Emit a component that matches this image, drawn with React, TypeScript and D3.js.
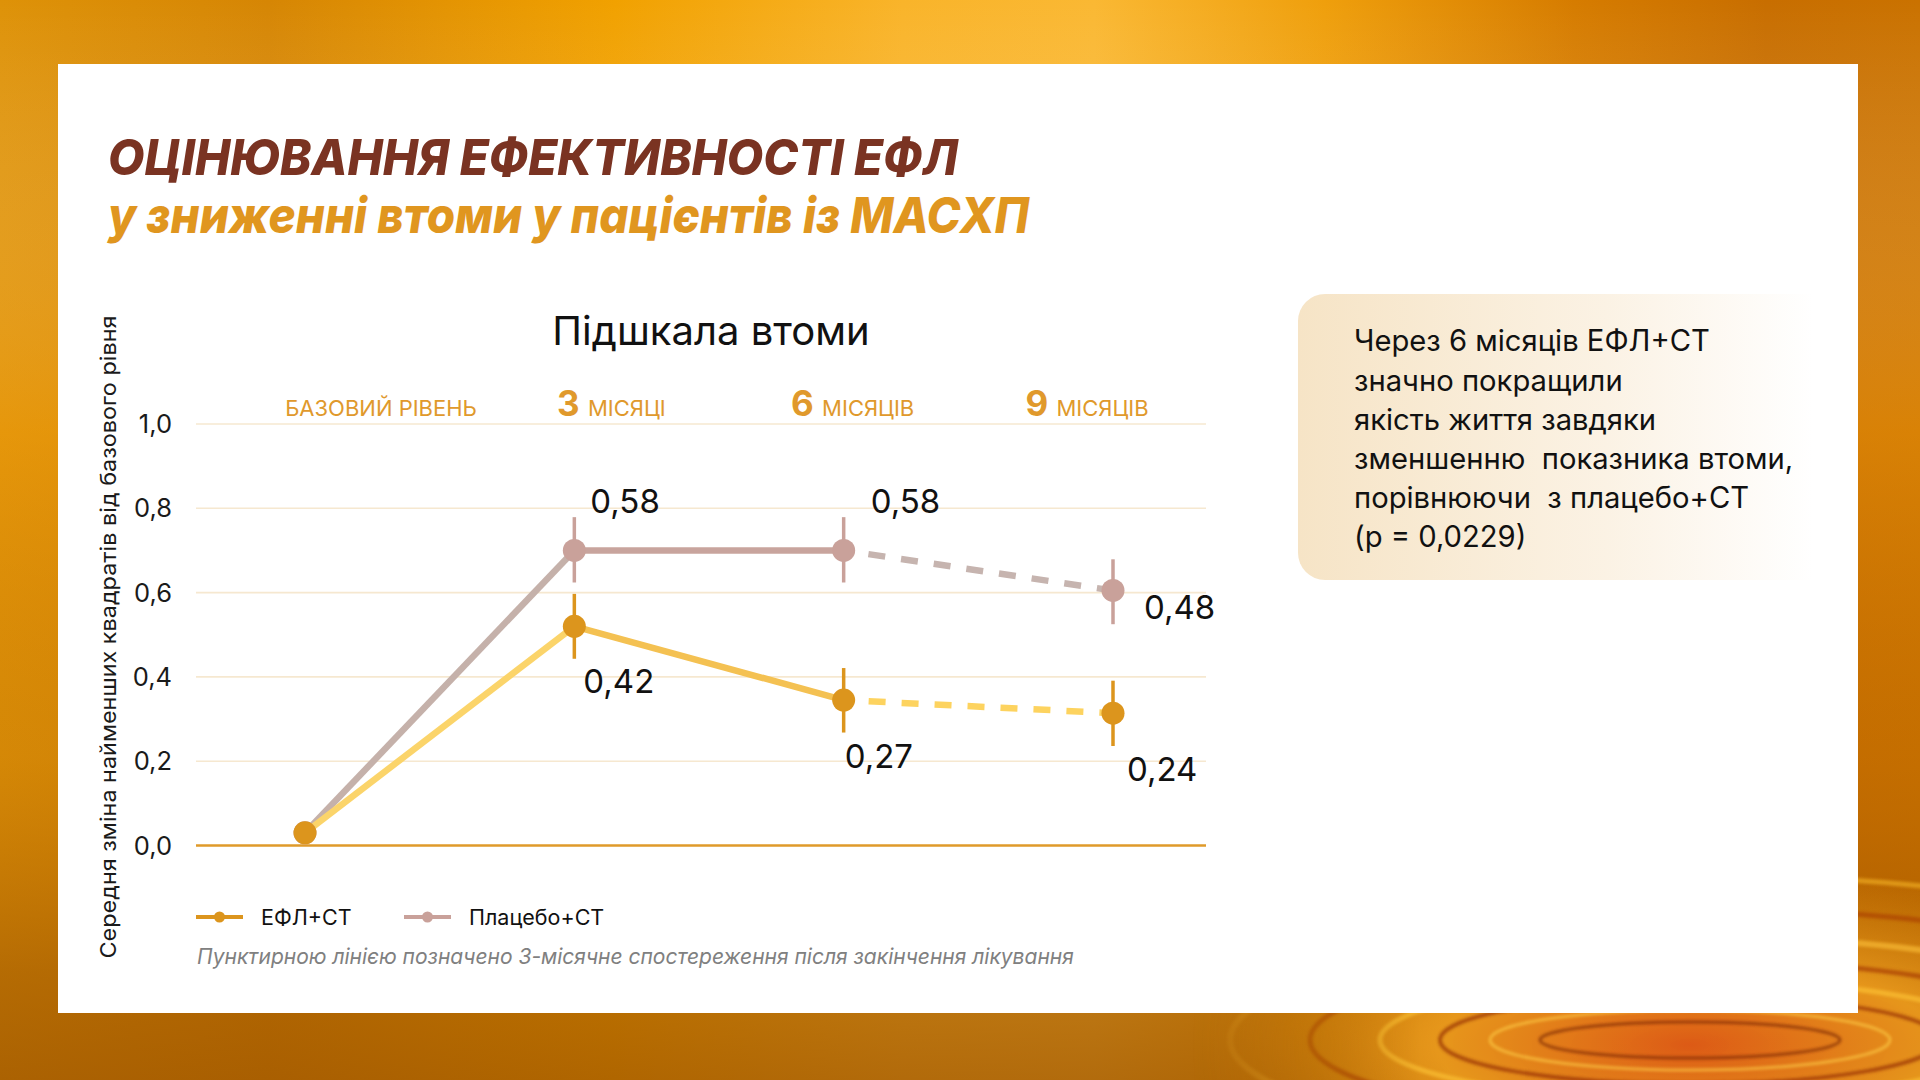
import React from 'react';
import * as d3 from 'd3';

// ---------- data ----------
const timepoints = ['base', 'm3', 'm6', 'm9'];
const headerNumbers = ['', '3', '6', '9'];
const headerWords = ['БАЗОВИЙ РІВЕНЬ', 'МІСЯЦІ', 'МІСЯЦІВ', 'МІСЯЦІВ'];

const eflValues = [0.03, 0.52, 0.345, 0.314];
const eflLow = [NaN, 0.443, 0.268, 0.236];
const eflHigh = [NaN, 0.597, 0.421, 0.391];
const eflLabels = ['', '0,42', '0,27', '0,24'];

const placeboValues = [0.03, 0.70, 0.70, 0.605];
const placeboLow = [NaN, 0.624, 0.624, 0.525];
const placeboHigh = [NaN, 0.779, 0.779, 0.679];
const placeboLabels = ['', '0,58', '0,58', '0,48'];

const yTicks = [0, 0.2, 0.4, 0.6, 0.8, 1.0];
const seriesNames = ['ЕФЛ+СТ', 'Плацебо+СТ'];

const titleLine1 = 'ОЦІНЮВАННЯ ЕФЕКТИВНОСТІ ЕФЛ';
const titleLine2 = 'у зниженні втоми у пацієнтів із МАСХП';
const chartTitle = 'Підшкала втоми';
const yAxisTitle = 'Середня зміна найменших квадратів від базового рівня';
const footnote = 'Пунктирною лінією позначено 3-місячне спостереження після закінчення лікування';
const boxLines = [
  'Через 6 місяців ЕФЛ+СТ',
  'значно покращили',
  'якість життя завдяки',
  'зменшенню  показника втоми,',
  'порівнюючи  з плацебо+СТ',
  '(p = 0,0229)',
];

// ---------- layout (not data) ----------
const FONT = "Inter, 'Noto Sans', sans-serif";
const TITLE_FONT = "Inter, Roboto, sans-serif";
const placeboLabelOffsets = [[0, 0], [16, -37], [27, -37], [31, 29]];
const eflLabelOffsets = [[0, 0], [9, 67], [1, 68], [14, 68]];
const headerNudge = [0, -5, 1, 0];

const C = {
  brown: '#7a3322',
  gold: '#e0961f',
  header: '#e0992c',
  grid: '#f6e8d0',
  zero: '#df9a2a',
  eflMarker: '#dc951d',
  eflSeg: ['#fbd46a', '#f4c152', '#fdd35f'],
  plMarker: '#c9a19a',
  plSeg: ['#c5b1aa', '#c8a49d', '#c6b4af'],
};

const locale = d3.formatLocale({ decimal: ',', thousands: ' ', grouping: [3], currency: ['', ''] });
const fmt = locale.format('.1f');

export default function App() {
  const x = d3.scalePoint<string>().domain(timepoints).range([305, 1113]);
  const hx = d3.scalePoint<string>().domain(timepoints).range([381, 1087]);
  const y = d3.scaleLinear().domain([0, 1]).range([845.5, 424]);
  const line = d3.line<[number, number]>();

  const seg = (vals: number[], i: number) =>
    line([
      [x(timepoints[i])!, y(vals[i])],
      [x(timepoints[i + 1])!, y(vals[i + 1])],
    ]) || '';

  const series = [
    { vals: placeboValues, lo: placeboLow, hi: placeboHigh, labels: placeboLabels, off: placeboLabelOffsets, marker: C.plMarker, segs: C.plSeg },
    { vals: eflValues, lo: eflLow, hi: eflHigh, labels: eflLabels, off: eflLabelOffsets, marker: C.eflMarker, segs: C.eflSeg },
  ];

  const ripples = [
    { rx: 150, ry: 18, c: '#6e1c00', w: 3 },
    { rx: 200, ry: 30, c: '#ffd24a', w: 3 },
    { rx: 250, ry: 44, c: '#8a2400', w: 4 },
    { rx: 310, ry: 60, c: '#ffc838', w: 5 },
    { rx: 380, ry: 80, c: '#a03000', w: 5 },
    { rx: 460, ry: 104, c: '#ffc43a', w: 6 },
    { rx: 550, ry: 132, c: '#a83a00', w: 5 },
    { rx: 650, ry: 165, c: '#f8b828', w: 5 },
  ];

  return (
    <svg width={1920} height={1080} style={{ position: 'absolute', left: 0, top: 0 }} xmlns="http://www.w3.org/2000/svg">
      <defs>
        <linearGradient id="bgx" x1="0" x2="1" y1="0" y2="0">
          <stop offset="0%" stopColor="#de9208" />
          <stop offset="14%" stopColor="#d68604" />
          <stop offset="32%" stopColor="#f1a100" />
          <stop offset="47%" stopColor="#f9b42a" />
          <stop offset="57%" stopColor="#fab833" />
          <stop offset="69%" stopColor="#ef9f0c" />
          <stop offset="82%" stopColor="#d67c00" />
          <stop offset="92%" stopColor="#c86e00" />
          <stop offset="100%" stopColor="#ca7200" />
        </linearGradient>
        <linearGradient id="bgy" x1="0" x2="0" y1="0" y2="1">
          <stop offset="0%" stopColor="#fff" stopOpacity="0" />
          <stop offset="40%" stopColor="#f5a010" stopOpacity="0.35" />
          <stop offset="70%" stopColor="#b06000" stopOpacity="0.2" />
          <stop offset="90%" stopColor="#9a5200" stopOpacity="0.6" />
          <stop offset="100%" stopColor="#9a5200" stopOpacity="0.75" />
        </linearGradient>
        <radialGradient id="glow" cx="1690" cy="1045" r="560" gradientUnits="userSpaceOnUse"
          gradientTransform="translate(1690 1045) scale(1 0.32) translate(-1690 -1045)">
          <stop offset="0%" stopColor="#e25a18" stopOpacity="0.9" />
          <stop offset="45%" stopColor="#f0a020" stopOpacity="0.85" />
          <stop offset="100%" stopColor="#e09010" stopOpacity="0" />
        </radialGradient>
        <linearGradient id="boxg" x1="0" x2="1" y1="0" y2="0">
          <stop offset="0%" stopColor="#f6e4c6" />
          <stop offset="55%" stopColor="#fbf2e4" />
          <stop offset="92%" stopColor="#ffffff" />
        </linearGradient>
        <filter id="blur" x="-10%" y="-50%" width="120%" height="200%">
          <feGaussianBlur stdDeviation="1.6" />
        </filter>
        <linearGradient id="fadeMask" x1="0" x2="1" y1="0" y2="0">
          <stop offset="0%" stopColor="#fff" stopOpacity="0" />
          <stop offset="62%" stopColor="#fff" stopOpacity="0" />
          <stop offset="74%" stopColor="#fff" stopOpacity="1" />
          <stop offset="100%" stopColor="#fff" stopOpacity="1" />
        </linearGradient>
        <mask id="rippleMask">
          <rect x={0} y={0} width={1920} height={1080} fill="url(#fadeMask)" />
        </mask>
      </defs>

      {/* background */}
      <rect x={0} y={0} width={1920} height={1080} fill="url(#bgx)" />
      <rect x={0} y={0} width={1920} height={1080} fill="url(#bgy)" />
      <g mask="url(#rippleMask)">
        <rect x={1000} y={850} width={920} height={230} fill="url(#glow)" />
        <g filter="url(#blur)" opacity={0.6}>
          {ripples.map((r, i) => (
            <ellipse key={i} cx={1690} cy={1040} rx={r.rx} ry={r.ry} fill="none" stroke={r.c} strokeWidth={r.w} />
          ))}
        </g>
      </g>

      {/* card */}
      <rect x={58} y={64} width={1800} height={949} fill="#ffffff" />

      {/* titles */}
      <text x={108} y={175} fontFamily={TITLE_FONT} fontWeight={800} fontStyle="italic" fontSize={50}
        fill={C.brown} textLength={850} lengthAdjust="spacingAndGlyphs">{titleLine1}</text>
      <text x={108} y={233} fontFamily={TITLE_FONT} fontWeight={800} fontStyle="italic" fontSize={50}
        fill={C.gold} textLength={921} lengthAdjust="spacingAndGlyphs">{titleLine2}</text>

      {/* chart title */}
      <text x={711} y={345} textAnchor="middle" fontFamily={FONT} fontSize={40} fill="#111">{chartTitle}</text>

      {/* column headers */}
      {timepoints.map((t, i) => (
        <text key={t} x={hx(t)! + headerNudge[i]} y={416} textAnchor="middle" fontFamily={FONT} fill={C.header}>
          {headerNumbers[i] ? (
            <tspan fontSize={35} fontWeight={700}>{headerNumbers[i] + ' '}</tspan>
          ) : null}
          <tspan fontSize={22}>{headerWords[i]}</tspan>
        </text>
      ))}

      {/* grid */}
      {yTicks.map((v) => (
        <g key={v}>
          {v !== 0 && (
            <line x1={196} x2={1206} y1={y(v)} y2={y(v)} stroke={C.grid} strokeWidth={1.6} />
          )}
          <text x={172} y={y(v) + 9} textAnchor="end" fontFamily={FONT} fontSize={25.5} fill="#1a1a1a">{fmt(v)}</text>
        </g>
      ))}
      <line x1={196} x2={1206} y1={y(0)} y2={y(0)} stroke={C.zero} strokeWidth={2.4} />

      {/* y axis title */}
      <text transform={`translate(108,637) rotate(-90)`} textAnchor="middle" dominantBaseline="central"
        fontFamily={FONT} fontSize={22} fill="#1a1a1a" textLength={643} lengthAdjust="spacingAndGlyphs">{yAxisTitle}</text>

      {/* lines */}
      {series.map((s, si) => (
        <g key={'l' + si}>
          {[0, 1].map((i) => (
            <path key={i} d={seg(s.vals, i)} stroke={s.segs[i]} strokeWidth={6.5} fill="none" strokeLinecap="butt" />
          ))}
          <path d={seg(s.vals, 2)} stroke={s.segs[2]} strokeWidth={6.5} fill="none"
            strokeDasharray="17 16" strokeDashoffset={8} />
        </g>
      ))}

      {/* error bars + markers */}
      {series.map((s, si) => (
        <g key={'m' + si}>
          {timepoints.map((t, i) =>
            Number.isFinite(s.lo[i]) ? (
              <line key={'e' + i} x1={x(t)} x2={x(t)} y1={y(s.lo[i])} y2={y(s.hi[i])} stroke={s.marker} strokeWidth={3.5} />
            ) : null
          )}
          {timepoints.map((t, i) => (
            <circle key={'c' + i} cx={x(t)} cy={y(s.vals[i])} r={11.5} fill={s.marker} />
          ))}
        </g>
      ))}

      {/* value labels */}
      {series.map((s, si) => (
        <g key={'t' + si}>
          {timepoints.map((t, i) =>
            s.labels[i] ? (
              <text key={i} x={x(t)! + s.off[i][0]} y={y(s.vals[i]) + s.off[i][1]} fontFamily={FONT} fontSize={33} fill="#111">
                {s.labels[i]}
              </text>
            ) : null
          )}
        </g>
      ))}

      {/* legend */}
      {seriesNames.map((name, i) => {
        const lx = i === 0 ? 196 : 404;
        const col = i === 0 ? C.eflMarker : C.plMarker;
        return (
          <g key={name}>
            <line x1={lx} x2={lx + 47} y1={917} y2={917} stroke={col} strokeWidth={4} />
            <circle cx={lx + 23.5} cy={917} r={5.5} fill={col} />
            <text x={lx + 65} y={925} fontFamily={FONT} fontSize={21.5} fill="#111">{name}</text>
          </g>
        );
      })}

      {/* footnote */}
      <text x={197} y={964} fontFamily={FONT} fontStyle="italic" fontSize={21} fill="#808080">{footnote}</text>

      {/* side box */}
      <rect x={1298} y={294} width={560} height={286} rx={27} fill="url(#boxg)" />
      {boxLines.map((l, i) => (
        <text key={i} x={1354} y={351.4 + i * 39.2} fontFamily={FONT} fontSize={29.2} fill="#111" style={{ whiteSpace: 'pre' }}>{l}</text>
      ))}
    </svg>
  );
}
